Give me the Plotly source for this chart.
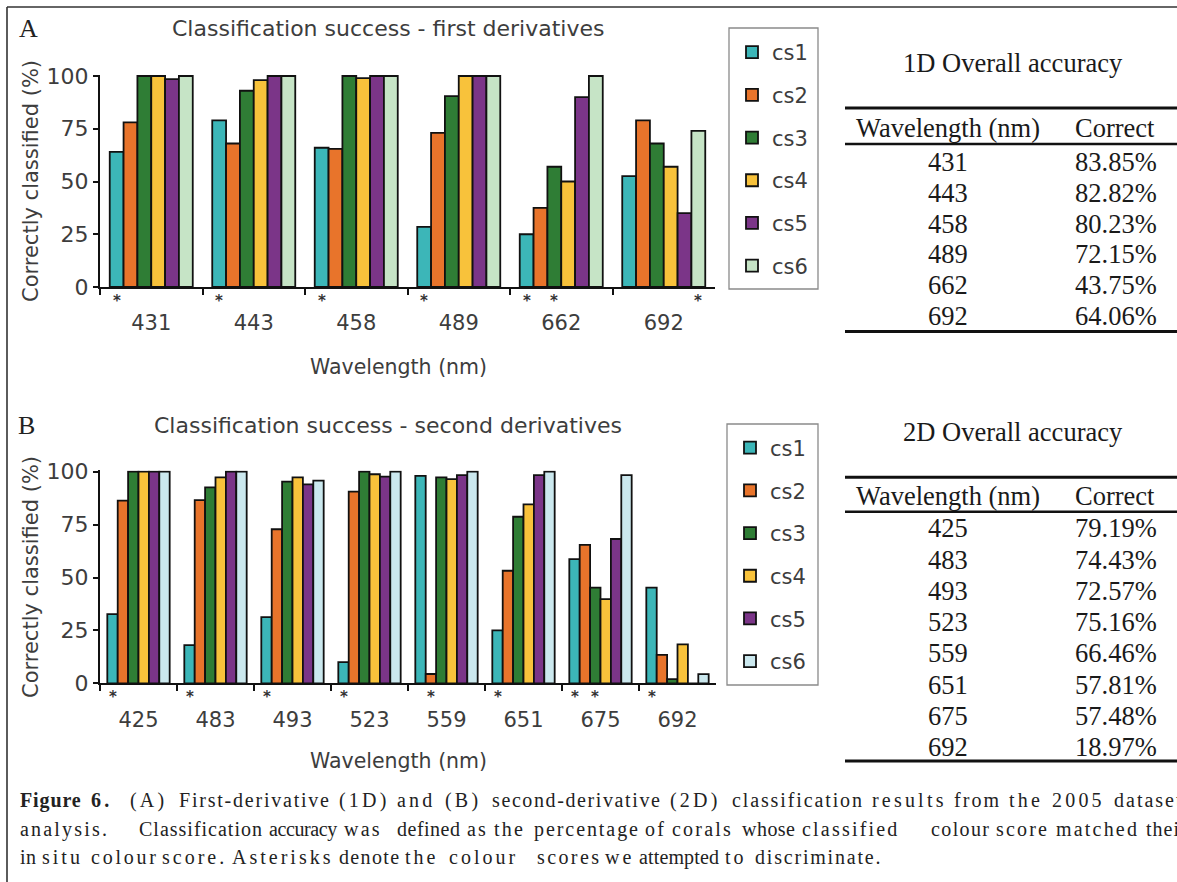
import plotly.graph_objects as go

W, H = 1177, 882

series_names = ["cs1", "cs2", "cs3", "cs4", "cs5", "cs6"]

# First-derivative classification success (%)
wavelengths_1d = ["431", "443", "458", "489", "662", "692"]
cs1_1d = [64, 79, 66, 28.5, 25, 52.5]
cs2_1d = [78, 68, 65.5, 73, 37.5, 79]
cs3_1d = [100, 93, 100, 90.5, 57, 68]
cs4_1d = [100, 98, 99, 100, 50, 57]
cs5_1d = [98.5, 100, 100, 100, 90, 35]
cs6_1d = [100, 100, 100, 100, 100, 74]
# colour scores targeted at each wavelength (index into series_names)
targets_1d = [[0], [0], [0], [0], [0, 2], [5]]

# Second-derivative classification success (%)
wavelengths_2d = ["425", "483", "493", "523", "559", "651", "675", "692"]
cs1_2d = [32.7, 18, 31.3, 10, 98, 25, 58.7, 45.2]
cs2_2d = [86.3, 86.6, 72.8, 90.6, 4.4, 53.2, 65.4, 13.4]
cs3_2d = [100, 92.6, 95.3, 100, 97.3, 78.7, 45.2, 2]
cs4_2d = [100, 97.3, 97.3, 98.8, 96.5, 84.6, 39.8, 18.4]
cs5_2d = [100, 100, 94, 97.7, 98.4, 98.4, 68.2, 0]
cs6_2d = [100, 100, 95.8, 100, 100, 100, 98.4, 4.3]
targets_2d = [[0], [0], [0], [0], [1], [0], [0, 2], [0]]

# Overall accuracy tables
overall_1d = [83.85, 82.82, 80.23, 72.15, 43.75, 64.06]
overall_2d = [79.19, 74.43, 72.57, 75.16, 66.46, 57.81, 57.48, 18.97]

colors_1d = ["#3cb6b8", "#e8742b", "#2f7d35", "#f8c23b", "#7b3588", "#c6e4c6"]
colors_2d = ["#3cb6b8", "#e8742b", "#2f7d35", "#f8c23b", "#7b3588", "#cbe8ee"]

series_1d = [cs1_1d, cs2_1d, cs3_1d, cs4_1d, cs5_1d, cs6_1d]
series_2d = [cs1_2d, cs2_2d, cs3_2d, cs4_2d, cs5_2d, cs6_2d]

SANS = "DejaVu Sans"
SERIF = "Liberation Serif"
GREY = "#3d3d3d"
BAR_GAP = 0.19


def xp(px):
    return px / W


def yp(py):
    return 1 - py / H


fig = go.Figure()

for k, name in enumerate(series_names):
    fig.add_trace(go.Bar(
        x=wavelengths_1d, y=series_1d[k], name=name,
        marker=dict(color=colors_1d[k], line=dict(color="#111111", width=1.8)),
        xaxis="x", yaxis="y", legend="legend", legendgroup="a" + name,
    ))
for k, name in enumerate(series_names):
    fig.add_trace(go.Bar(
        x=wavelengths_2d, y=series_2d[k], name=name,
        marker=dict(color=colors_2d[k], line=dict(color="#111111", width=1.8)),
        xaxis="x2", yaxis="y2", legend="legend2", legendgroup="b" + name,
    ))

annotations = []


def star_marks(targets, xref, yref):
    width = (1 - BAR_GAP) / len(series_names)
    for i, ks in enumerate(targets):
        for k in ks:
            annotations.append(dict(
                x=i - (1 - BAR_GAP) / 2 + (k + 0.5) * width, y=0,
                xref=xref, yref=yref, text="<b>*</b>", showarrow=False,
                yanchor="middle", yshift=-13.5, borderpad=0,
                font=dict(family=SANS, size=15, color="#333333")))


star_marks(targets_1d, "x", "y")
star_marks(targets_2d, "x2", "y2")


def text(x, y, s, size, family=SANS, color=GREY, xanchor="center", angle=0):
    annotations.append(dict(
        x=xp(x), y=yp(y), xref="paper", yref="paper", text=s, showarrow=False,
        xanchor=xanchor, yanchor="middle", textangle=angle,
        font=dict(family=family, size=size, color=color)))


# panel letters, titles, axis titles
text(28, 29, "A", 26, SERIF, "#222222")
text(26, 425, "B", 26, SERIF, "#222222")
text(388, 29, "Classification success - first derivatives", 22)
text(388, 425, "Classification success - second derivatives", 22)
text(398, 367, "Wavelength (nm)", 20.5)
text(398, 761, "Wavelength (nm)", 20.5)
text(31, 181, "Correctly classified (%)", 21, angle=-90)
text(31, 577, "Correctly classified (%)", 21, angle=-90)

shapes = []


def rule(x0, x1, y, w):
    shapes.append(dict(type="line", xref="paper", yref="paper",
                       x0=xp(x0), x1=xp(x1), y0=yp(y), y1=yp(y),
                       line=dict(color="#111111", width=w)))


def accuracy_table(title, wl, acc, y_title, y_top, y_head, y_row0, dy, y_bottom):
    TC = "#1a1a1a"
    FS = 26.5
    text(1013, y_title, title, FS, SERIF, TC)
    rule(845, 1177, y_top, 3)
    text(948, y_head, "Wavelength (nm)", FS, SERIF, TC)
    text(1115, y_head, "Correct", FS, SERIF, TC)
    rule(845, 1177, y_head + 16, 2.5)
    for i, (w, a) in enumerate(zip(wl, acc)):
        y = y_row0 + i * dy
        text(948, y, w, FS, SERIF, TC)
        text(1116, y, f"{a:.2f}%", FS, SERIF, TC)
    rule(845, 1177, y_bottom, 3)


accuracy_table("1D Overall accuracy", wavelengths_1d, overall_1d,
               63, 108, 128, 161.7, 30.9, 331.5)
accuracy_table("2D Overall accuracy", wavelengths_2d, overall_2d,
               432, 477.3, 495.7, 528.3, 31.25, 761)

# ---- figure caption: justified lines, set word by word ----
cap_words = [
    ["Figure", "6.", "(A)", "First-derivative", "(1D)", "and", "(B)",
     "second-derivative", "(2D)", "classification", "results", "from", "the", "2005", "dataset"],
    ["analysis.", "Classification", "accuracy", "was", "defined", "as", "the", "percentage",
     "of", "corals", "whose", "classified", "colour", "score", "matched", "their"],
    ["in", "situ", "colour", "score.", "Asterisks", "denote", "the", "colour", "scores",
     "we", "attempted", "to", "discriminate."],
]
cap_starts = [
    [18, 89, 128, 177, 337, 395, 443, 490, 668, 730, 870, 952, 1007, 1050, 1112],
    [18, 137, 267, 342, 395, 465, 492, 532, 643, 670, 740, 800, 929, 994, 1054, 1144],
    [18, 40, 89, 160, 230, 337, 403, 447, 535, 603, 637, 723, 753],
]
cap_tracking = [2.0, 1.0, 1.8]     # base letter spacing of each line (px)
cap_word_gap = [10, 7, 6]          # space kept between neighbouring words
cap_bold_words = 2                 # "Figure 6." is set in bold
cap_rows = [800, 829, 857]
CAP_SIZE = 20

# advance widths (1/1000 em) of the serif face, regular and bold
_REG = dict(zip("abcdefghijklmnopqrstuvwxyz",
                [444, 500, 444, 500, 444, 333, 500, 500, 278, 278, 500, 278, 778,
                 500, 500, 500, 500, 333, 389, 278, 500, 500, 722, 500, 500, 444]))
_REG.update({"A": 722, "B": 667, "C": 667, "D": 722, "F": 556, "(": 333, ")": 333,
             "-": 333, ".": 250, "0": 500, "1": 500, "2": 500, "5": 500, "6": 500})
_BOLD = {"F": 611, "i": 278, "g": 500, "u": 556, "r": 444, "e": 444, "6": 500, ".": 250}


def word_width(word, bold):
    table = _BOLD if bold else _REG
    return sum(table.get(ch, 500) for ch in word) * CAP_SIZE / 1000


for li, (words, starts, cy) in enumerate(zip(cap_words, cap_starts, cap_rows)):
    for wi, (wd, sx) in enumerate(zip(words, starts)):
        bold = li == 0 and wi < cap_bold_words
        track = cap_tracking[li]
        if wi + 1 < len(words):
            room = starts[wi + 1] - sx - cap_word_gap[li]
            fit = (room - word_width(wd, bold)) / max(len(wd) - 1, 1)
            track = max(-0.4, min(fit, cap_tracking[li] + 1.2))
        label = f"<b>{wd}</b>" if bold else wd
        styled = f'<span style="letter-spacing:{track:.2f}px">{label}</span>'
        text(sx, cy, styled, CAP_SIZE, SERIF, "#222222", xanchor="left")

# outer frame (top and left edges)
shapes.append(dict(type="line", xref="paper", yref="paper", x0=xp(7), x1=1, y0=yp(7), y1=yp(7),
                   line=dict(color="#333333", width=1.6)))
shapes.append(dict(type="line", xref="paper", yref="paper", x0=xp(7), x1=xp(7), y0=0, y1=yp(7),
                   line=dict(color="#333333", width=1.6)))

# legend frames
for (x0, y0, x1, y1) in [(729, 28, 818, 289), (727, 424, 818, 685)]:
    shapes.append(dict(type="rect", xref="paper", yref="paper",
                       x0=xp(x0), x1=xp(x1), y0=yp(y1), y1=yp(y0),
                       line=dict(color="#8a8a8a", width=1.3), fillcolor="rgba(0,0,0,0)"))

xaxis_common = dict(
    type="category", showline=True, linecolor="#111111", linewidth=2,
    ticks="outside", tickson="boundaries", ticklen=6, tickwidth=1.5, tickcolor="#111111",
    tickfont=dict(family=SANS, size=21, color=GREY), ticklabelstandoff=16,
    showgrid=False, zeroline=False, fixedrange=True,
)
yaxis_common = dict(
    range=[0, 100.6], tickvals=[0, 25, 50, 75, 100], showline=True, linecolor="#111111",
    linewidth=2, ticks="outside", ticklen=5, tickwidth=1.5, tickcolor="#111111",
    tickfont=dict(family=SANS, size=22, color=GREY), showgrid=False, zeroline=False,
)

legend_common = dict(
    xanchor="left", yanchor="top", borderwidth=0,
    bgcolor="rgba(0,0,0,0)", font=dict(family=SANS, size=21, color=GREY),
    traceorder="grouped", tracegroupgap=12.4, itemwidth=30,
)

fig.update_layout(
    width=W, height=H, margin=dict(l=0, r=0, t=0, b=0, autoexpand=False),
    paper_bgcolor="white", plot_bgcolor="white",
    barmode="group", bargap=BAR_GAP, bargroupgap=0,
    xaxis=dict(domain=[xp(100), xp(715)], anchor="y", **xaxis_common),
    yaxis=dict(domain=[yp(287), yp(287 - 2.11 * 100.6)], anchor="x", **yaxis_common),
    xaxis2=dict(domain=[xp(100), xp(716)], anchor="y2", **xaxis_common),
    yaxis2=dict(domain=[yp(683.3), yp(683.3 - 2.116 * 100.6)], anchor="x2", **yaxis_common),
    legend=dict(x=xp(732), y=yp(32), **legend_common),
    legend2=dict(x=xp(730), y=yp(427.5), **legend_common),
    annotations=annotations, shapes=shapes,
)

fig.write_html("out.html")
